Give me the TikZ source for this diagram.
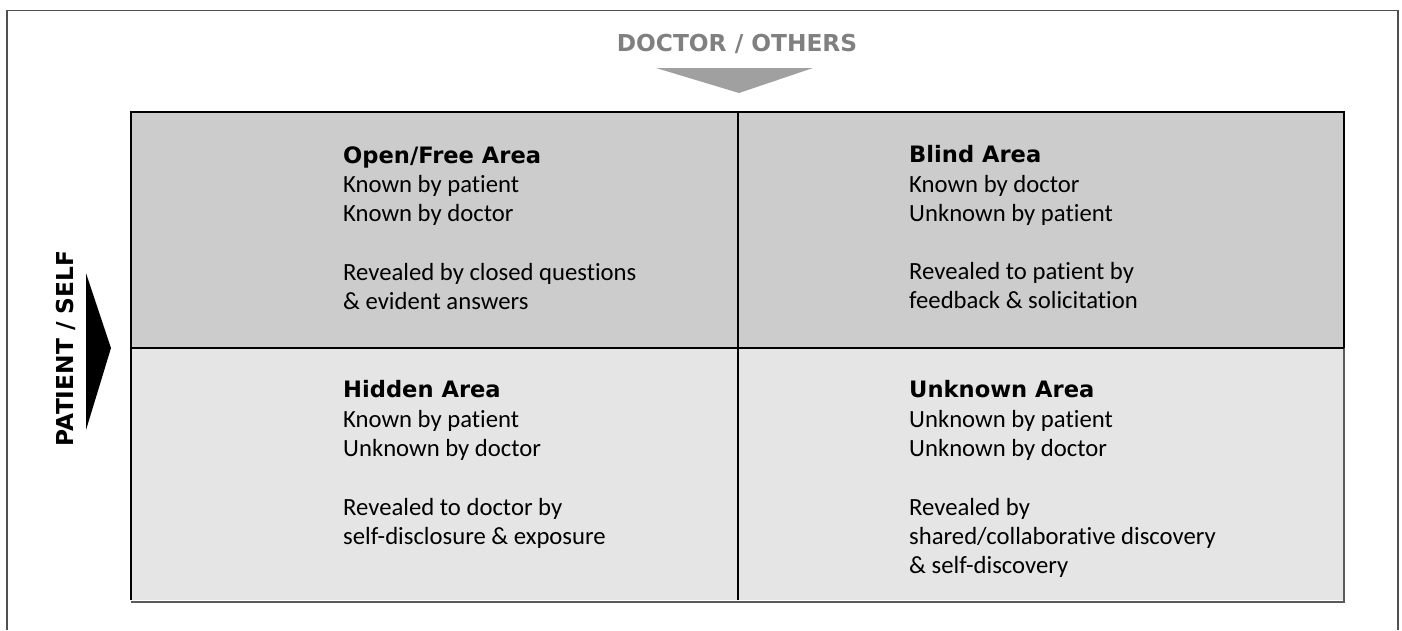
\documentclass[tikz,border=0pt]{standalone}
\usepackage{fontspec}
\setmainfont{Carlito}[Ligatures=NoCommon]
\newfontfamily\headfont{DejaVu Sans}
\definecolor{topfill}{RGB}{204,204,204}
\definecolor{botfill}{RGB}{229,229,229}
\definecolor{headgray}{RGB}{128,128,128}
\definecolor{arrowgray}{RGB}{160,160,160}
\definecolor{framegray}{RGB}{80,80,80}
\definecolor{shadowgray}{RGB}{90,90,90}
\tikzset{
  bodyline/.style={anchor=base west, inner sep=0pt, font=\fontsize{24.7pt}{29pt}\selectfont},
  titleline/.style={anchor=base west, inner sep=0pt, font=\headfont\bfseries\fontsize{22.6pt}{26pt}\selectfont},
  headtext/.style={anchor=base, inner sep=0pt, font=\headfont\bfseries\fontsize{23.3pt}{28pt}\selectfont},
  gridline/.style={draw=black, line width=1.5pt},
  midline/.style={draw=black, line width=2pt},
  shadowline/.style={draw=shadowgray, line width=1.5pt},
  framestyle/.style={draw=framegray, line width=1.5pt},
}
\begin{document}
\begin{tikzpicture}[x=1pt,y=-1pt]
\useasboundingbox (0,0) rectangle (1402,630);
% outer frame (open at bottom)
\draw[framestyle] (7,630) -- (7,10.5) -- (1398,10.5) -- (1398,630);
% header and arrows
\node[headtext, text=headgray] (doctor) at (737,51) {DOCTOR / OTHERS};
\fill[arrowgray] (656,68) -- (813,68) -- (739,93) -- cycle;
\node[headtext, text=black, rotate=90] (patient) at (73,348.5) {PATIENT / SELF};
\fill[black] (86,273) -- (111,348) -- (86,430) -- cycle;
% grid
\fill[topfill] (131,112) rectangle (1344,348);
\fill[botfill] (131,348) rectangle (1344,600);
\draw[gridline] (131,600) -- (131,112) -- (1344,112) -- (1344,348);
\draw[shadowline] (1344,348) -- (1344,602.5);
\draw[shadowline] (131,601.8) -- (1344.75,601.8);
\draw[midline] (738,112) -- (738,600);
\draw[midline] (131,348) -- (1344,348);
% top-left cell
\node[titleline] (tl1) at (343,163) {Open/Free Area};
\node[bodyline] (tl2) at (343,192) {Known by patient};
\node[bodyline] (tl3) at (343,221) {Known by doctor};
\node[bodyline] (tl4) at (343,280) {Revealed by closed questions};
\node[bodyline] (tl5) at (343,309) {\& evident answers};
% top-right cell
\node[titleline] (tr1) at (909,162) {Blind Area};
\node[bodyline] (tr2) at (909,192) {Known by doctor};
\node[bodyline] (tr3) at (909,221) {Unknown by patient};
\node[bodyline] (tr4) at (909,279) {Revealed to patient by};
\node[bodyline] (tr5) at (909,308) {feedback \& solicitation};
% bottom-left cell
\node[titleline] (bl1) at (343,397) {Hidden Area};
\node[bodyline] (bl2) at (343,427) {Known by patient};
\node[bodyline] (bl3) at (343,456) {Unknown by doctor};
\node[bodyline] (bl4) at (343,515) {Revealed to doctor by};
\node[bodyline] (bl5) at (343,544) {self-disclosure \& exposure};
% bottom-right cell
\node[titleline] (br1) at (909,397) {Unknown Area};
\node[bodyline] (br2) at (909,427) {Unknown by patient};
\node[bodyline] (br3) at (909,456) {Unknown by doctor};
\node[bodyline] (br4) at (909,515) {Revealed by};
\node[bodyline] (br5) at (909,544) {shared/collaborative discovery};
\node[bodyline] (br6) at (909,573) {\& self-discovery};
\end{tikzpicture}
\end{document}
